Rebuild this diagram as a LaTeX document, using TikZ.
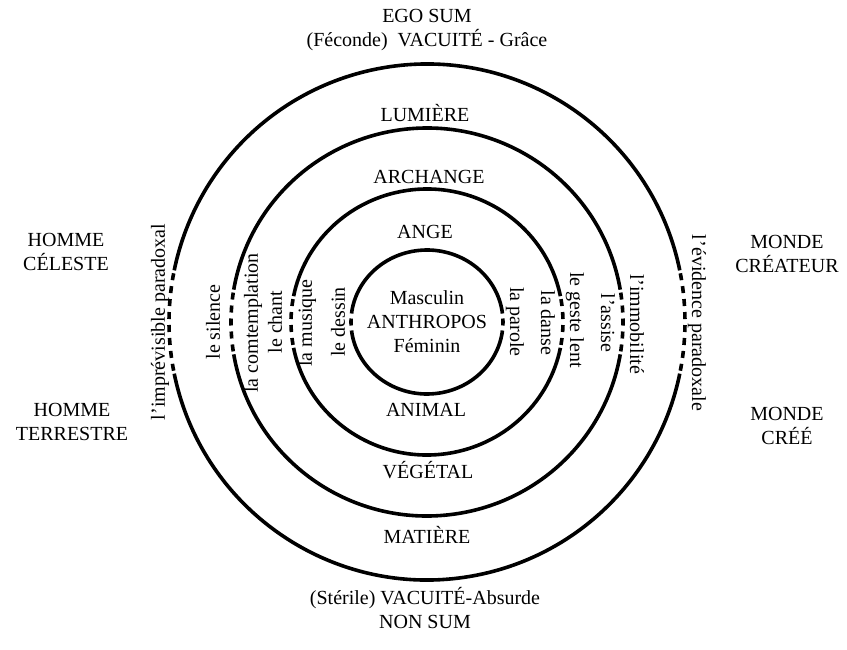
\documentclass[tikz,border=0pt]{standalone}
\usepackage{fontspec}
\setmainfont{Liberation Serif}
\newcommand\lblfont{\fontsize{20}{24}\selectfont}
\newcommand\ringdraw[5]{% rx, ry, half-angle, gap length, phase
  \pgfmathsetmacro\ra{#3}\pgfmathsetmacro\rb{180-#3}\pgfmathsetmacro\rc{180+#3}\pgfmathsetmacro\rd{360-#3}\pgfmathsetmacro\re{360+#3}%
  \draw[ring] (\ra:#1 and #2) arc[start angle=\ra, end angle=\rb, x radius=#1, y radius=#2];
  \draw[ring] (\rc:#1 and #2) arc[start angle=\rc, end angle=\rd, x radius=#1, y radius=#2];
  \draw[ring, dash pattern=on 7pt off #4, dash phase=#5] (\rb:#1 and #2) arc[start angle=\rb, end angle=\rc, x radius=#1, y radius=#2];
  \draw[ring, dash pattern=on 7pt off #4, dash phase=#5] (\rd:#1 and #2) arc[start angle=\rd, end angle=\re, x radius=#1, y radius=#2];
}
\begin{document}
\begin{tikzpicture}[x=1pt,y=1pt,
  ring/.style={line width=3.6pt},
  lbl/.style={font=\lblfont, inner sep=0pt, align=center},
  vl/.style={lbl, rotate=90},
  vr/.style={lbl, rotate=-90}]
\useasboundingbox (-427,-327) rectangle (420,322);

% rings
\ringdraw{258}{258}{11.55}{6pt}{10pt}
\ringdraw{196}{194}{9.6}{6pt}{10pt}
\ringdraw{136}{133}{11.2}{6pt}{10pt}
\ringdraw{76}{72}{6.76}{10pt}{12pt}

% ring labels
\node[lbl] (lum) at (-2,209) {LUMIÈRE};
\node[lbl] (arch) at (2,145) {ARCHANGE};
\node[lbl] (ange) at (-2,90) {ANGE};
\node[lbl] (anim) at (-1,-88) {ANIMAL};
\node[lbl] (veg) at (1,-148) {VÉGÉTAL};
\node[lbl] (mat) at (0,-213) {MATIÈRE};

% centre
\node[lbl] (anthropos) at (0,0) {Masculin\\ANTHROPOS\\Féminin};

% top and bottom
\node[lbl] (ego) at (0,292) {EGO SUM\\(Féconde)\enspace VACUITÉ - Grâce};
\node[lbl] (non) at (-2,-286) {(Stérile) VACUITÉ-Absurde\\NON SUM};

% side labels
\node[lbl] (hc) at (-361,70) {HOMME\\CÉLESTE};
\node[lbl] (ht) at (-355,-99.5) {HOMME\\TERRESTRE};
\node[lbl] (mc) at (360,68) {MONDE\\CRÉATEUR};
\node[lbl] (mcr) at (360,-104) {MONDE\\CRÉÉ};

% vertical labels, left
\node[vl] (imp) at (-267,0) {l'imprévisible paradoxal};
\node[vl] (sil) at (-214,0) {le silence};
\node[vl] (cont) at (-174,-1) {la comtemplation};
\node[vl] (chant) at (-152,0) {le chant};
\node[vl] (mus) at (-120,-1) {la musique};
\node[vl] (des) at (-89,0) {le dessin};

% vertical labels, right
\node[vr] (par) at (88,0) {la parole};
\node[vr] (dan) at (121,-1) {la danse};
\node[vr] (ges) at (148,2) {le geste lent};
\node[vr] (ass) at (181,-1) {l'assise};
\node[vr] (imm) at (210,-2) {l'immobilité};
\node[vr] (evi) at (270,-1) {l'évidence paradoxale};
\end{tikzpicture}
\end{document}
